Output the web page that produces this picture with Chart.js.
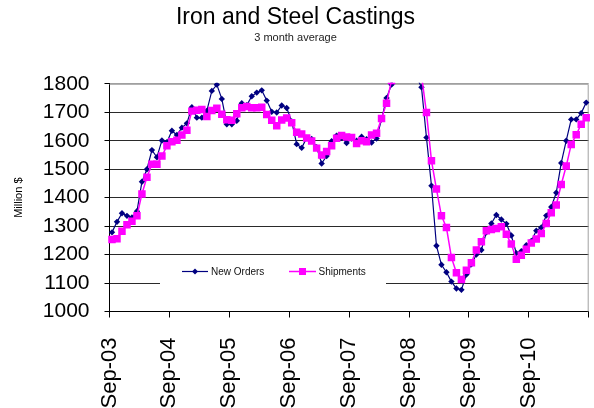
<!DOCTYPE html>
<html><head><meta charset="utf-8">
<style>html,body{margin:0;padding:0;background:#fff;overflow:hidden}canvas{display:block}</style>
<script src="https://cdn.jsdelivr.net/npm/chart.js@4/dist/chart.umd.min.js"></script>
</head><body>
<canvas id="c" width="594" height="408"></canvas>
<script>
const tickLabels = ["Sep-03","Sep-04","Sep-05","Sep-06","Sep-07","Sep-08","Sep-09","Sep-10",""];
const seriesNames = ["New Orders","Shipments"];
// monthly values Sep-03 .. Aug-11 (values above 1800 are off the chart top)
const newOrders = [
 1278,1315,1345,1336,1330,1352,1456,1500,1567,1542,1601,1595,
 1635,1620,1646,1661,1718,1681,1681,1705,1775,1797,1747,1658,
 1658,1670,1732,1725,1756,1769,1777,1741,1702,1699,1724,1715,
 1668,1588,1575,1610,1606,1577,1520,1546,1598,1618,1610,1592,
 1608,1600,1614,1605,1594,1608,1675,1750,1797,1850,1890,1900,
 1880,1825,1788,1611,1442,1231,1164,1138,1105,1081,1076,1130,
 1166,1200,1216,1278,1309,1339,1323,1308,1267,1205,1212,1233,
 1248,1284,1295,1337,1367,1417,1522,1600,1675,1675,1697,1734
];
const shipments = [
 1253,1256,1282,1305,1317,1336,1413,1472,1517,1517,1546,1582,
 1596,1602,1620,1637,1704,1707,1710,1685,1706,1714,1693,1674,
 1672,1695,1716,1720,1716,1716,1718,1692,1672,1653,1673,1680,
 1663,1630,1624,1610,1599,1574,1550,1562,1582,1609,1618,1613,
 1611,1590,1600,1596,1620,1626,1678,1732,1812,1860,1900,1910,
 1890,1860,1830,1699,1530,1430,1336,1295,1190,1136,1112,1145,
 1171,1216,1245,1284,1288,1292,1298,1271,1237,1184,1198,1219,
 1241,1255,1274,1309,1347,1374,1446,1511,1587,1621,1658,1681
];
const colors = ["#000080","#FF00FF"];
const FONT = "'Liberation Sans', Arial, sans-serif";
const toPts = arr => arr.map((v,i)=>({x:i+0.5,y:v}));

const frame = {
  id:'frame',
  beforeDatasetsDraw(chart){
    const {ctx, chartArea:a} = chart;
    ctx.save();
    ctx.strokeStyle = '#a0a0a0'; ctx.lineWidth = 1;
    ctx.beginPath();
    ctx.moveTo(a.left, a.top+0.5); ctx.lineTo(a.right-0.5, a.top+0.5); ctx.lineTo(a.right-0.5, a.bottom);
    ctx.stroke();
    ctx.restore();
  }
};

const insideLegend = {
  id:'insideLegend',
  afterDraw(chart){
    const ctx = chart.ctx;
    ctx.save();
    ctx.fillStyle = '#fff';
    ctx.fillRect(160, 261, 226, 23);
    const cy = 271.5;
    const items = [
      {x0:182, x1:208, tx:211, ds:0},
      {x0:289, x1:316, tx:318.5, ds:1}
    ];
    ctx.font = '10px ' + FONT;
    ctx.textBaseline = 'middle';
    items.forEach(it => {
      const c = colors[it.ds];
      ctx.strokeStyle = c; ctx.lineWidth = it.ds===0 ? 1.2 : 1.5;
      ctx.beginPath(); ctx.moveTo(it.x0, cy); ctx.lineTo(it.x1, cy); ctx.stroke();
      const mx = (it.x0+it.x1)/2;
      ctx.fillStyle = c;
      if (it.ds===0) {
        ctx.beginPath(); ctx.moveTo(mx, cy-3); ctx.lineTo(mx+3, cy); ctx.lineTo(mx, cy+3); ctx.lineTo(mx-3, cy); ctx.closePath(); ctx.fill();
      } else {
        ctx.fillRect(mx-3.5, cy-3.5, 7, 7);
      }
      ctx.fillStyle = '#111';
      ctx.fillText(seriesNames[it.ds], it.tx, cy+0.5);
    });
    ctx.restore();
  }
};

new Chart(document.getElementById('c'), {
  type:'line',
  data:{
    datasets:[
      {label:seriesNames[1], data:toPts(shipments), borderColor:colors[1], backgroundColor:colors[1],
       borderWidth:1.5, pointStyle:'rect', pointRadius:5.3, pointBorderWidth:0, tension:0, order:0,
       clip:{left:8,right:8,top:1,bottom:8}},
      {label:seriesNames[0], data:toPts(newOrders), borderColor:colors[0], backgroundColor:colors[0],
       borderWidth:1.2, pointStyle:'rectRot', pointRadius:3.2, pointBorderWidth:0, tension:0, order:1,
       clip:{left:8,right:8,top:1,bottom:8}}
    ]
  },
  options:{
    responsive:false, animation:false, devicePixelRatio:1,
    layout:{padding:{left:0,right:3,top:0,bottom:0}},
    plugins:{
      legend:{display:false}, tooltip:{enabled:false},
      title:{display:true, text:'Iron and Steel Castings', color:'#000',
        font:{family:FONT, size:23, weight:'normal'}, padding:{top:4,bottom:0}},
      subtitle:{display:true, text:'3 month average', color:'#222',
        font:{family:FONT, size:11, weight:'normal'}, padding:{top:0,bottom:39}}
    },
    scales:{
      x:{type:'linear', min:0, max:96, offset:false,
        afterFit(s){ s.height = 96.5; s.paddingLeft = 0; s.paddingRight = 0; },
        ticks:{stepSize:12, autoSkip:false, maxRotation:90, minRotation:90, padding:20, color:'#000',
          font:{family:FONT, size:22},
          callback:(v)=> tickLabels[Math.round(v/12)] ?? ''},
        grid:{drawOnChartArea:false, drawTicks:true, tickLength:6, color:'#000'},
        border:{color:'#000', width:1}
      },
      y:{min:1000, max:1800,
        afterFit(s){ s.width = 109.5; },
        ticks:{stepSize:100, padding:15, color:'#000', font:{family:FONT, size:21},
          callback:(v)=> String(v)},
        grid:{color:(c)=> c.tick && c.tick.value===1800 ? '#a0a0a0' : '#2a2a2a', tickColor:'#000', tickLength:5, lineWidth:1},
        border:{color:'#000', width:1},
        title:{display:true, text:'Million $', color:'#000', font:{family:FONT, size:11}, padding:{top:12,bottom:0}}
      }
    }
  },
  plugins:[frame, insideLegend]
});
</script>
</body></html>
